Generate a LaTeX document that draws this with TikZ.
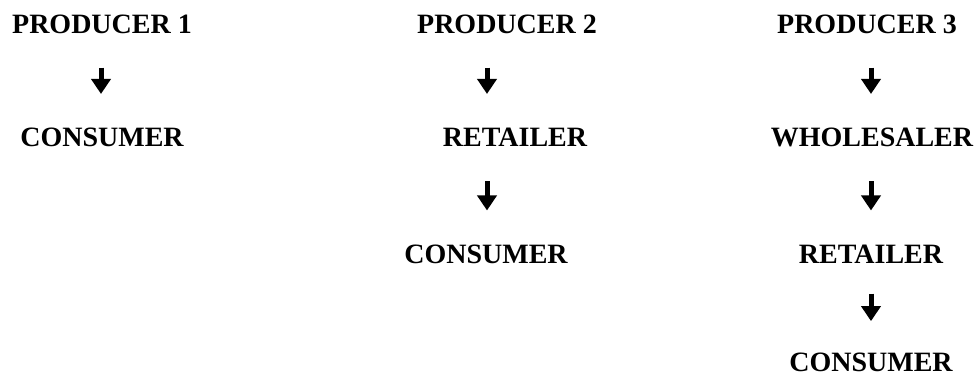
\documentclass[tikz,border=0pt]{standalone}
\usepackage{fontspec}
\setmainfont{Liberation Serif}
\usetikzlibrary{arrows.meta}

\begin{document}
\begin{tikzpicture}[x=0.75pt, y=-0.75pt,
    stage/.style={font=\bfseries\fontsize{21}{25}\selectfont, inner sep=0pt, text height=13.9pt, text depth=0pt},
    flow/.style={line width=3.75pt, -{Triangle[width=14.25pt, length=11.25pt]}, shorten <=25.5pt, shorten >=25.5pt}]
	\useasboundingbox (0,0) rectangle (976,378);

	% axes the arrows run down
	\coordinate (k1) at (101,0);
	\coordinate (k2) at (487,0);
	\coordinate (k3) at (871,0);

	% channel 1
	\node (p1)[stage] at (102,24) {PRODUCER 1};
	\node (c1)[stage] at (102,137.5) {CONSUMER};

	% channel 2
	\node (p2)[stage] at (507,24) {PRODUCER 2};
	\node (r2)[stage] at (515,137.5) {RETAILER};
	\node (c2)[stage] at (486,254) {CONSUMER};

	% channel 3
	\node (p3)[stage] at (867,24) {PRODUCER 3};
	\node (w3)[stage] at (872,137.5) {WHOLESALER};
	\node (r3)[stage] at (871,254) {RETAILER};
	\node (c3)[stage] at (871,362) {CONSUMER};

	\draw[flow] (p1.south -| k1) -- (c1.north -| k1);
	\draw[flow] (p2.south -| k2) -- (r2.north -| k2);
	\draw[flow] (r2.south -| k2) -- (c2.north -| k2);
	\draw[flow] (p3.south -| k3) -- (w3.north -| k3);
	\draw[flow] (w3.south -| k3) -- (r3.north -| k3);
	\draw[flow, shorten <=22.5pt, shorten >=23.5pt] (r3.south -| k3) -- (c3.north -| k3);
\end{tikzpicture}
\end{document}
